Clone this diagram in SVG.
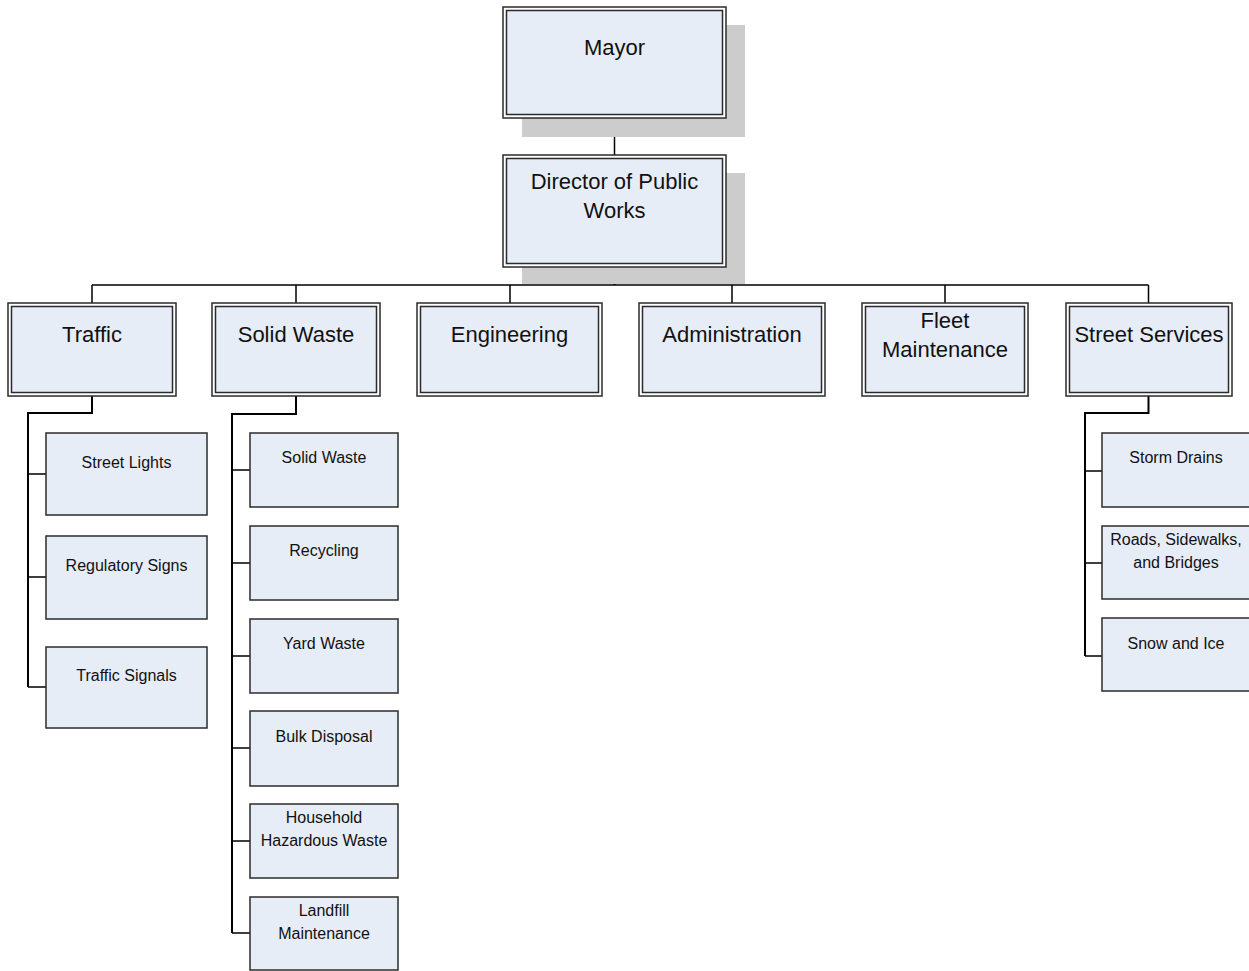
<svg xmlns="http://www.w3.org/2000/svg" width="1249" height="971" viewBox="0 0 1249 971">
<style>
.bg{fill:#ffffff}
.shadow{fill:#cccccc}
.outer{fill:#ffffff;stroke:#2b2b2b;stroke-width:1.5}
.inner{fill:#e7edf7;stroke:#2b2b2b;stroke-width:1.5}
.box{fill:#e7edf7;stroke:#2b2b2b;stroke-width:1.5}
.t1{font-family:"Liberation Sans",Arial,sans-serif;font-size:22px;fill:#111;text-anchor:middle}
.t2{font-family:"Liberation Sans",Arial,sans-serif;font-size:16px;fill:#111;text-anchor:middle}
.c{fill:none;stroke:#000;stroke-width:1.5}
.cs{fill:none;stroke:#000;stroke-width:2}
</style>
<rect class="bg" x="0" y="0" width="1249" height="971"/>
<g id="connectors">
  <path class="c" d="M614.5 118 V155"/>
  <path class="cs" d="M614.5 267 V285"/>
  <path class="c" d="M92 285 H1148.5 M92 285 V303 M296 285 V303 M510 285 V303 M732 285 V303 M945 285 V303 M1148.5 285 V303"/>
  <path class="cs" d="M92 396 V413 H28 V687"/>
  <path class="c" d="M28 474 H46 M28 577 H46 M28 687 H46"/>
  <path class="cs" d="M296 396 V414 H232 V933"/>
  <path class="c" d="M232 470 H250 M232 563 H250 M232 656 H250 M232 748 H250 M232 841 H250 M232 933 H250"/>
  <path class="cs" d="M1148.5 396 V413 H1085 V656"/>
  <path class="c" d="M1085 471 H1102 M1085 563 H1102 M1085 656 H1102"/>
</g>
<g id="mayor">
  <rect class="shadow" x="522" y="25" width="223" height="112"/>
  <rect class="outer" x="503" y="7" width="223" height="111"/>
  <rect class="inner" x="506.5" y="10.5" width="216" height="104"/>
  <text class="t1" x="614.5" y="55">Mayor</text>
</g>
<g id="director">
  <rect class="shadow" x="522" y="173" width="223" height="111"/>
  <rect class="outer" x="503" y="155" width="223" height="112"/>
  <rect class="inner" x="506.5" y="158.5" width="216" height="105"/>
  <text class="t1" x="614.5" y="189">Director of Public</text>
  <text class="t1" x="614.5" y="218">Works</text>
</g>
<g id="traffic">
  <rect class="outer" x="8" y="303" width="168" height="93"/>
  <rect class="inner" x="11.5" y="306.5" width="161" height="86"/>
  <text class="t1" x="92" y="342">Traffic</text>
</g>
<g id="solid-waste">
  <rect class="outer" x="212" y="303" width="168" height="93"/>
  <rect class="inner" x="215.5" y="306.5" width="161" height="86"/>
  <text class="t1" x="296" y="342">Solid Waste</text>
</g>
<g id="engineering">
  <rect class="outer" x="417" y="303" width="185" height="93"/>
  <rect class="inner" x="420.5" y="306.5" width="178" height="86"/>
  <text class="t1" x="509.5" y="342">Engineering</text>
</g>
<g id="administration">
  <rect class="outer" x="639" y="303" width="186" height="93"/>
  <rect class="inner" x="642.5" y="306.5" width="179" height="86"/>
  <text class="t1" x="732" y="342">Administration</text>
</g>
<g id="fleet">
  <rect class="outer" x="862" y="303" width="166" height="93"/>
  <rect class="inner" x="865.5" y="306.5" width="159" height="86"/>
  <text class="t1" x="945" y="328">Fleet</text>
  <text class="t1" x="945" y="357">Maintenance</text>
</g>
<g id="street-services">
  <rect class="outer" x="1066" y="303" width="166" height="93"/>
  <rect class="inner" x="1069.5" y="306.5" width="159" height="86"/>
  <text class="t1" x="1149" y="342">Street Services</text>
</g>
<g id="street-lights">
  <rect class="box" x="46" y="433" width="161" height="82"/>
  <text class="t2" x="126.5" y="468">Street Lights</text>
</g>
<g id="regulatory-signs">
  <rect class="box" x="46" y="536" width="161" height="83"/>
  <text class="t2" x="126.5" y="571">Regulatory Signs</text>
</g>
<g id="traffic-signals">
  <rect class="box" x="46" y="647" width="161" height="81"/>
  <text class="t2" x="126.5" y="681">Traffic Signals</text>
</g>
<g id="sw-solid-waste">
  <rect class="box" x="250" y="433" width="148" height="74"/>
  <text class="t2" x="324" y="463">Solid Waste</text>
</g>
<g id="recycling">
  <rect class="box" x="250" y="526" width="148" height="74"/>
  <text class="t2" x="324" y="556">Recycling</text>
</g>
<g id="yard-waste">
  <rect class="box" x="250" y="619" width="148" height="74"/>
  <text class="t2" x="324" y="649">Yard Waste</text>
</g>
<g id="bulk-disposal">
  <rect class="box" x="250" y="711" width="148" height="75"/>
  <text class="t2" x="324" y="742">Bulk Disposal</text>
</g>
<g id="household-hazardous-waste">
  <rect class="box" x="250" y="804" width="148" height="74"/>
  <text class="t2" x="324" y="823">Household</text>
  <text class="t2" x="324" y="846">Hazardous Waste</text>
</g>
<g id="landfill-maintenance">
  <rect class="box" x="250" y="897" width="148" height="73"/>
  <text class="t2" x="324" y="916">Landfill</text>
  <text class="t2" x="324" y="939">Maintenance</text>
</g>
<g id="storm-drains">
  <rect class="box" x="1102" y="433" width="160" height="74"/>
  <text class="t2" x="1176" y="463">Storm Drains</text>
</g>
<g id="roads">
  <rect class="box" x="1102" y="526" width="160" height="73"/>
  <text class="t2" x="1176" y="545">Roads, Sidewalks,</text>
  <text class="t2" x="1176" y="568">and Bridges</text>
</g>
<g id="snow-ice">
  <rect class="box" x="1102" y="618" width="160" height="73"/>
  <text class="t2" x="1176" y="649">Snow and Ice</text>
</g>
</svg>
